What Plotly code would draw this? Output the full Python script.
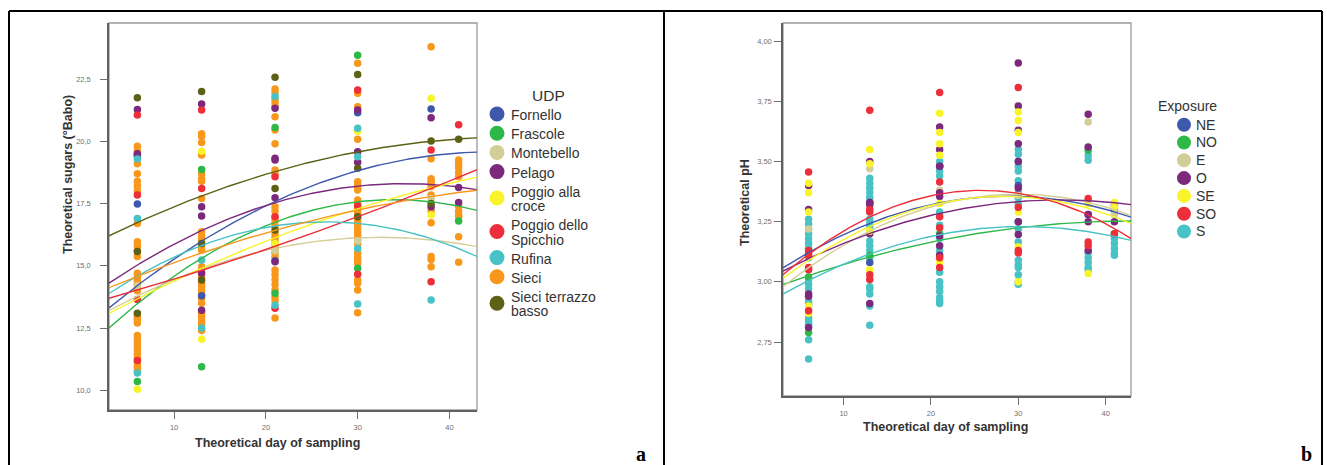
import numpy as np
import plotly.graph_objects as go

W, H = 1327, 465

# ---------------- Panel a : theoretical sugars by UDP ----------------
UDP_NAMES = ["Fornello", "Frascole", "Montebello", "Pelago", "Poggio alla croce",
             "Poggio dello Spicchio", "Rufina", "Sieci", "Sieci terrazzo basso"]
UDP_LINES = [["Fornello"], ["Frascole"], ["Montebello"], ["Pelago"], ["Poggio alla", "croce"],
             ["Poggio dello", "Spicchio"], ["Rufina"], ["Sieci"], ["Sieci terrazzo", "basso"]]
UDP_COLORS = ["#3E58AC", "#2EB848", "#D3CE97", "#7C287D", "#F9F42A",
              "#EC2F3A", "#48C2C5", "#F7981D", "#5C6116"]

fornello_day = [6, 6, 13, 21, 30, 38]
fornello_sugar = [17.48, 19.45, 13.8, 15.2, 21.15, 21.3]

frascole_day = [6, 13, 13, 21, 21, 30, 30, 41]
frascole_sugar = [10.35, 18.87, 10.95, 20.55, 13.9, 23.45, 14.9, 16.8]

montebello_day = [6, 21, 30, 38]
montebello_sugar = [14.2, 15.6, 16.0, 17.7]

pelago_day = [6, 6, 13, 13, 13, 13, 13, 21, 21, 21, 21, 21, 30, 30, 30, 38, 38, 41, 41]
pelago_sugar = [21.28, 19.5, 21.5, 17.37, 17.0, 14.7, 13.22, 21.33, 19.32, 19.25, 17.73,
                15.16, 21.26, 19.58, 19.16, 20.95, 17.37, 18.14, 17.54]

croce_day = [6, 13, 13, 21, 30, 38, 38]
croce_sugar = [10.04, 19.6, 12.05, 15.9, 20.4, 21.73, 17.04]

spicchio_day = [6, 6, 6, 6, 13, 13, 21, 21, 21, 30, 30, 30, 38, 38, 41]
spicchio_sugar = [21.06, 17.84, 13.65, 11.2, 21.26, 18.1, 18.58, 16.97, 13.3, 22.06, 17.41,
                  14.66, 19.65, 14.36, 20.66]

rufina_day = [6, 6, 6, 13, 13, 21, 21, 30, 30, 30, 30, 38]
rufina_sugar = [19.29, 16.9, 10.7, 15.23, 12.5, 21.8, 13.42, 20.52, 19.38, 15.7, 13.47, 13.63]

sieci_day = ([6] * 32 + [13] * 27 + [21] * 30 + [30] * 28 + [38] * 12 + [41] * 11)
sieci_sugar = [
    19.8, 19.6, 19.4, 19.1, 18.7, 18.4, 18.2, 18.0, 16.7, 15.97, 15.8, 15.6, 15.37, 14.7, 14.55,
    14.4, 14.25, 14.1, 14.0, 12.95, 12.85, 12.7, 12.2, 12.05, 11.9, 11.75, 11.6, 11.45, 11.3,
    11.1, 10.95, 10.8,
    20.3, 20.2, 19.95, 19.45, 18.7, 18.5, 18.4, 17.7, 16.37, 16.2, 16.05, 15.8, 15.63, 14.96,
    14.8, 14.56, 14.3, 14.15, 14.0, 13.85, 13.7, 13.5, 13.1, 12.95, 12.8, 12.65, 12.4,
    22.1, 21.95, 21.7, 21.55, 21.4, 20.99, 20.45, 19.9, 18.85, 18.7, 17.37, 17.2, 16.97, 16.8,
    16.6, 16.3, 16.15, 16.0, 15.85, 15.7, 15.5, 15.35, 14.83, 14.65, 14.45, 14.25, 14.03, 13.75,
    13.6, 12.9,
    23.13, 21.93, 21.39, 20.08, 18.38, 18.25, 18.1, 18.04, 17.64, 17.5, 17.3, 17.15, 17.0, 16.8,
    16.65, 16.5, 16.35, 16.2, 16.05, 15.9, 15.5, 15.35, 15.2, 15.1, 14.43, 14.3, 14.03, 13.12,
    23.8, 19.3, 18.5, 18.4, 18.3, 18.18, 17.84, 17.2, 16.73, 15.37, 15.25, 14.96,
    19.25, 19.1, 18.95, 18.75, 18.58, 17.4, 17.2, 17.05, 16.97, 16.17, 15.14]

terrazzo_day = [6, 6, 6, 13, 13, 13, 21, 21, 21, 30, 30, 30, 38, 38, 41]
terrazzo_sugar = [21.75, 15.57, 13.1, 22.0, 15.9, 14.43, 22.57, 18.1, 16.44, 22.68, 18.92,
                  16.97, 20.01, 17.5, 20.08]

# quadratic fit lines of panel a at these days
FIT_DAYS_A = [2.9, 13, 21, 30, 38, 43]
fit_fornello = [13.3, 16.0, 17.6, 18.78, 19.45, 19.56]
fit_frascole = [12.5, 15.3, 16.77, 17.57, 17.55, 17.24]
fit_montebello = [13.15, 15.0, 15.66, 16.06, 16.04, 15.8]
fit_pelago = [14.3, 16.41, 17.55, 18.2, 18.25, 18.07]
fit_croce = [13.0, 15.1, 16.06, 17.3, 17.95, 18.7]
fit_spicchio = [13.72, 14.76, 15.77, 17.04, 18.08, 18.85]
fit_rufina = [13.9, 15.77, 16.64, 16.7, 16.1, 15.37]
fit_sieci = [14.1, 15.57, 16.4, 17.24, 17.77, 18.05]
fit_terrazzo = [16.2, 17.8, 18.8, 19.58, 19.98, 20.15]

UDP_DAYS = [fornello_day, frascole_day, montebello_day, pelago_day, croce_day,
            spicchio_day, rufina_day, sieci_day, terrazzo_day]
UDP_SUGARS = [fornello_sugar, frascole_sugar, montebello_sugar, pelago_sugar, croce_sugar,
              spicchio_sugar, rufina_sugar, sieci_sugar, terrazzo_sugar]
UDP_FITS = [fit_fornello, fit_frascole, fit_montebello, fit_pelago, fit_croce,
            fit_spicchio, fit_rufina, fit_sieci, fit_terrazzo]
UDP_DRAW_ORDER = [7, 0, 1, 2, 3, 4, 5, 6, 8]

SUGAR_TICKS = [10.0, 12.5, 15.0, 17.5, 20.0, 22.5]
DAY_TICKS = [10, 20, 30, 40]

# ---------------- Panel b : theoretical pH by exposure ----------------
EXPO_NAMES = ["NE", "NO", "E", "O", "SE", "SO", "S"]
EXPO_COLORS = ["#3E58AC", "#2EB848", "#D3CE97", "#7C287D", "#F9F42A", "#EC2F3A", "#48C2C5"]

ne_day = [6, 13, 13, 21, 30, 38, 41]
ne_ph = [3.12, 3.08, 3.33, 3.48, 3.40, 3.28, 3.30]

no_day = [6, 6, 13, 21, 30, 38, 41]
no_ph = [3.02, 2.79, 3.11, 3.20, 3.25, 3.547, 3.20]

e_day = [6, 13, 21, 30, 38, 41]
e_ph = [3.22, 3.47, 3.38, 3.36, 3.664, 3.28]

o_day = [6, 6, 6, 6, 6, 13, 13, 13, 13, 13, 21, 21, 21, 21, 21, 21, 21, 21,
         30, 30, 30, 30, 30, 30, 30, 30, 38, 38, 38, 38, 38, 41, 41]
o_ph = [3.40, 3.30, 2.95, 2.94, 2.81, 3.50, 3.33, 3.32, 3.20, 2.91,
        3.643, 3.55, 3.48, 3.37, 3.355, 3.19, 3.15, 3.11,
        3.909, 3.73, 3.63, 3.574, 3.50, 3.39, 3.25, 3.197,
        3.696, 3.56, 3.28, 3.25, 3.13, 3.318, 3.25]

se_day = [6, 6, 6, 6, 6, 13, 13, 13, 13, 21, 21, 21, 21, 21, 21,
          30, 30, 30, 30, 30, 30, 38, 38, 41, 41]
se_ph = [3.41, 3.37, 3.29, 2.90, 2.87, 3.55, 3.49, 3.21, 3.05,
         3.70, 3.62, 3.574, 3.526, 3.325, 3.08,
         3.705, 3.67, 3.62, 3.29, 3.145, 3.00, 3.325, 3.035, 3.33, 3.31]

so_day = [6, 6, 6, 6, 6, 6, 13, 13, 13, 13, 13, 21, 21, 21, 21, 21, 21,
          30, 30, 30, 30, 38, 38, 38, 41]
so_ph = [3.456, 3.13, 3.11, 3.06, 3.05, 2.88, 3.713, 3.30, 3.29, 3.03, 3.01,
         3.786, 3.415, 3.27, 3.225, 3.10, 3.06, 3.807, 3.31, 3.13, 3.12,
         3.346, 3.166, 3.15, 3.20]

s_day = ([6] * 20 + [13] * 17 + [21] * 15 + [30] * 17 + [38] * 7 + [41] * 6)
s_ph = [3.26, 3.24, 3.22, 3.20, 3.18, 3.16, 3.14, 3.10, 3.01, 2.99, 2.97, 2.92, 2.91, 2.90,
        2.85, 2.84, 2.83, 2.82, 2.76, 2.68,
        3.43, 3.41, 3.39, 3.37, 3.35, 3.26, 3.25, 3.23, 3.17, 3.15, 3.13, 3.10, 2.98, 2.97,
        2.95, 2.90, 2.82,
        3.50, 3.48, 3.46, 3.44, 3.29, 3.235, 3.18, 3.13, 3.04, 3.00, 2.98, 2.96, 2.935, 2.92, 2.91,
        3.55, 3.53, 3.50, 3.48, 3.46, 3.42, 3.37, 3.35, 3.325, 3.22, 3.166, 3.09, 3.07, 3.06,
        3.03, 3.00, 2.99,
        3.525, 3.505, 3.12, 3.10, 3.08, 3.06, 3.05,
        3.19, 3.18, 3.16, 3.14, 3.12, 3.11]

FIT_DAYS_B = [3, 13, 21, 30, 38, 43]
fit_ne = [3.05, 3.26, 3.32, 3.35, 3.32, 3.27]
fit_no = [2.99, 3.10, 3.17, 3.23, 3.25, 3.25]
fit_e = [2.97, 3.23, 3.32, 3.35, 3.33, 3.28]
fit_o = [3.04, 3.21, 3.28, 3.33, 3.34, 3.32]
fit_se = [3.01, 3.24, 3.32, 3.35, 3.31, 3.24]
fit_so = [3.02, 3.29, 3.355, 3.36, 3.28, 3.18]
fit_s = [2.95, 3.11, 3.20, 3.23, 3.21, 3.17]

EXPO_DAYS = [ne_day, no_day, e_day, o_day, se_day, so_day, s_day]
EXPO_PH = [ne_ph, no_ph, e_ph, o_ph, se_ph, so_ph, s_ph]
EXPO_FITS = [fit_ne, fit_no, fit_e, fit_o, fit_se, fit_so, fit_s]
EXPO_DRAW_ORDER = [6, 0, 1, 2, 3, 4, 5]

PH_TICKS = [2.75, 3.00, 3.25, 3.50, 3.75, 4.00]

# ---------------- geometry (pixels of the 1327x465 page) ----------------
A_LEFT, A_RIGHT, A_TOP, A_BOTTOM = 109, 477, 23, 410
B_LEFT, B_RIGHT, B_TOP, B_BOTTOM = 783, 1131, 23, 396
A_XRANGE, A_YRANGE = [2.91, 43.0], [9.21, 24.75]
B_XRANGE, B_YRANGE = [3.07, 42.9], [2.526, 4.075]


def px(x):
    return x / W


def py(y):
    return 1 - y / H


FONT = "Arial, Liberation Sans, sans-serif"
SERIF = "Liberation Serif, Times New Roman, serif"
fig = go.Figure()


def add_panel(days_list, vals_list, fits, fit_days, colors, order, xa, ya, xrange):
    for i in order:
        fig.add_trace(go.Scatter(
            x=days_list[i], y=vals_list[i], mode="markers", xaxis=xa, yaxis=ya,
            marker=dict(size=7.5, color=colors[i], line=dict(width=0)),
            showlegend=False, hoverinfo="skip"))
    grid = np.linspace(xrange[0], xrange[1], 200)
    for i in range(len(fits)):
        coef = np.polyfit(fit_days, fits[i], 2)
        fig.add_trace(go.Scatter(
            x=grid, y=np.polyval(coef, grid), mode="lines", xaxis=xa, yaxis=ya,
            line=dict(color=colors[i], width=1.4), showlegend=False, hoverinfo="skip"))


add_panel(UDP_DAYS, UDP_SUGARS, UDP_FITS, FIT_DAYS_A, UDP_COLORS, UDP_DRAW_ORDER,
          "x", "y", A_XRANGE)
add_panel(EXPO_DAYS, EXPO_PH, EXPO_FITS, FIT_DAYS_B, EXPO_COLORS, EXPO_DRAW_ORDER,
          "x2", "y2", B_XRANGE)

axis_common = dict(showgrid=False, zeroline=False, showline=True, linecolor="#606060",
                   linewidth=1.5, mirror=False, ticks="outside", ticklen=7, tickwidth=1,
                   tickcolor="#707070", tickfont=dict(family=FONT, size=7.5, color="#707070"))

fig.update_layout(
    width=W, height=H, margin=dict(l=0, r=0, t=0, b=0),
    paper_bgcolor="white", plot_bgcolor="white", showlegend=False,
    separators=", ",
    xaxis=dict(domain=[px(A_LEFT), px(A_RIGHT)], range=A_XRANGE, tickvals=DAY_TICKS,
               anchor="y", ticklabelstandoff=2, **axis_common),
    yaxis=dict(domain=[py(A_BOTTOM), py(A_TOP)], range=A_YRANGE, tickvals=SUGAR_TICKS,
               tickformat=".1f", anchor="x", ticklabelstandoff=8, **axis_common),
    xaxis2=dict(domain=[px(B_LEFT), px(B_RIGHT)], range=B_XRANGE, tickvals=DAY_TICKS,
                anchor="y2", ticklabelstandoff=2, **axis_common),
    yaxis2=dict(domain=[py(B_BOTTOM), py(B_TOP)], range=B_YRANGE, tickvals=PH_TICKS,
                tickformat=".2f", anchor="x2", ticklabelstandoff=1, **axis_common),
)

shapes = []
# plot boxes (lighter grey frame)
for (l, r, t, b) in [(A_LEFT, A_RIGHT, A_TOP, A_BOTTOM), (B_LEFT, B_RIGHT, B_TOP, B_BOTTOM)]:
    shapes.append(dict(type="rect", xref="paper", yref="paper", x0=px(l), x1=px(r),
                       y0=py(b), y1=py(t), line=dict(color="#9a9a9a", width=1.3), layer="below"))
# table borders
for (x0, y0, x1, y1) in [(9, 11, 1322, 11), (9, 11, 9, 465), (664, 11, 664, 465),
                         (1322, 11, 1322, 465)]:
    shapes.append(dict(type="line", xref="paper", yref="paper", x0=px(x0), x1=px(x1),
                       y0=py(y0), y1=py(y1), line=dict(color="black", width=2)))

annotations = []


def text(x, y, s, size, color="#222222", bold=False, angle=0, xanchor="center",
         yanchor="middle", family=FONT):
    annotations.append(dict(x=px(x), y=py(y), xref="paper", yref="paper", text=s,
                            showarrow=False, textangle=angle, xanchor=xanchor,
                            yanchor=yanchor, borderpad=0,
                            font=dict(family=family, size=size, color=color,
                                      weight="bold" if bold else "normal")))


# axis titles
text(277, 443, "Theoretical day of sampling", 12.5, "#333333", bold=True)
text(68, 175, "Theoretical sugars (°Babo)", 12.5, "#333333", bold=True, angle=-90)
text(945, 427, "Theoretical day of sampling", 12.5, "#333333", bold=True)
text(745, 203, "Theoretical pH", 12.5, "#333333", bold=True, angle=-90)

# panel letters
text(641, 454, "a", 20, "black", bold=True, family=SERIF)
text(1306, 454, "b", 20, "black", bold=True, family=SERIF)


def circle(cx, cy, d, color):
    r = d / 2
    shapes.append(dict(type="circle", xref="paper", yref="paper",
                       xsizemode="pixel", ysizemode="pixel",
                       xanchor=px(cx), yanchor=py(cy), x0=-r, x1=r, y0=-r, y1=r,
                       fillcolor=color, line=dict(width=0)))


# legend a
text(548, 96, "UDP", 15.5, "#333333")
y = 115.0
for lines, col in zip(UDP_LINES, UDP_COLORS):
    n = len(lines)
    circle(497, y + 14.5 * (n - 1) / 2 - 1, 15, col)
    for k, ln in enumerate(lines):
        text(510, y + 14.5 * k, ln, 14, "#333333", xanchor="left")
    y += 19.2 + 14.2 * (n - 1)

# legend b
text(1187, 106, "Exposure", 14, "#333333")
for k, (nm, col) in enumerate(zip(EXPO_NAMES, EXPO_COLORS)):
    yy = 124.7 + 17.8 * k
    circle(1184, yy, 14, col)
    text(1195, yy, nm, 14, "#333333", xanchor="left")

fig.update_layout(shapes=shapes, annotations=annotations)
fig.write_html("out.html", config={"displayModeBar": False},
               post_script="document.body.style.margin='0';document.body.style.padding='0';")
